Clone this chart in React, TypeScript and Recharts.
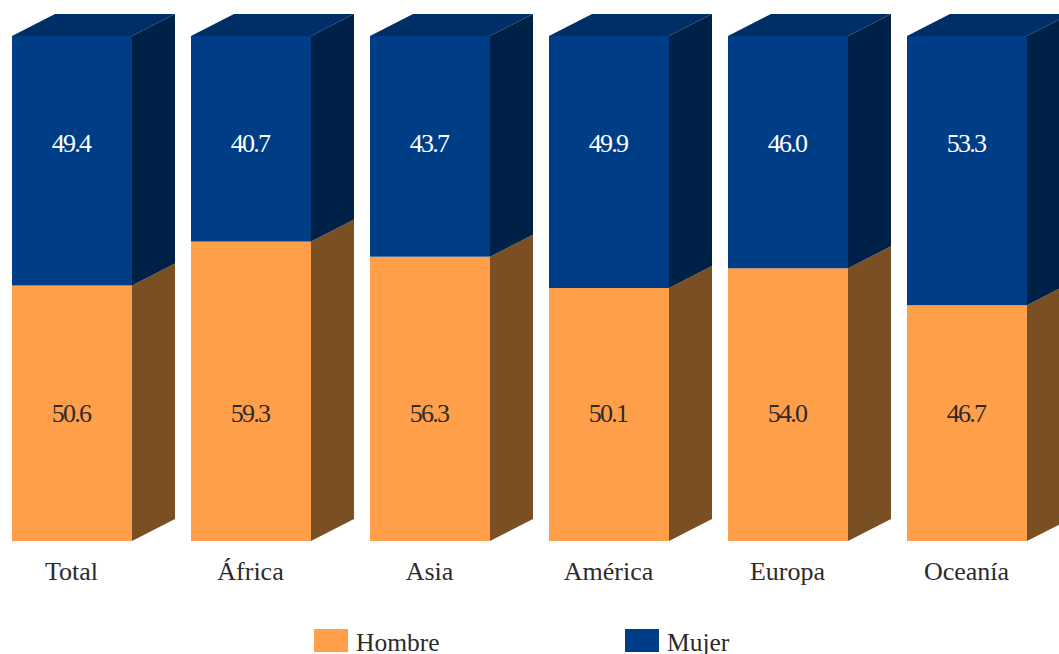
import React from 'react'
import { BarChart, Bar, XAxis, YAxis, Legend, LabelList } from 'recharts'

const categories = ['Total', 'África', 'Asia', 'América', 'Europa', 'Oceanía']
const hombre = [50.6, 59.3, 56.3, 50.1, 54.0, 46.7]
const mujer = [49.4, 40.7, 43.7, 49.9, 46.0, 53.3]

const rows = categories.map((name, i) => ({ name, hombre: hombre[i], mujer: mujer[i] }))

const FONT = '"Liberation Serif", "Times New Roman", serif'
const DX = 43
const DY = 22

// front, side and (for the top segment) lid of a 3D box
function Box3D(props: any) {
  const { x, y, width, height, fill, side, lid } = props
  const r = x + width
  return (
    <g>
      <rect x={x} y={y} width={width} height={height} fill={fill} />
      <polygon
        points={`${r},${y} ${r + DX},${y - DY} ${r + DX},${y + height - DY} ${r},${y + height}`}
        fill={side}
      />
      {lid && (
        <polygon
          points={`${x},${y} ${x + DX},${y - DY} ${r + DX},${y - DY} ${r},${y}`}
          fill={lid}
        />
      )}
    </g>
  )
}

// the source keeps every label of a series on one line, not centred in its segment
function fixedLabel(baseline: number, color: string) {
  return (props: any) => (
    <text
      x={props.x + props.width / 2 - 1}
      y={baseline}
      textAnchor="middle"
      fontFamily={FONT}
      fontSize={26}
      letterSpacing={-1.7}
      fill={color}
    >
      {Number(props.value).toFixed(1)}
    </text>
  )
}

const legendX: Record<string, number> = { Hombre: 332, Mujer: 643 }

function LegendRow({ payload }: any) {
  return (
    <div style={{ position: 'relative', width: 1074, height: 0 }}>
      {(payload ?? []).map((p: any) => (
        <div
          key={p.value}
          style={{
            position: 'absolute',
            left: legendX[p.value],
            top: 629,
            display: 'flex',
            alignItems: 'center',
            height: 23,
            whiteSpace: 'nowrap',
          }}
        >
          <span style={{ width: 34, height: 23, background: p.color, marginRight: 8 }} />
          <span
            style={{
              fontFamily: FONT,
              fontSize: 25.5,
              lineHeight: '20px',
              color: '#2b2b2b',
              position: 'relative',
              top: 2,
            }}
          >
            {p.value}
          </span>
        </div>
      ))}
    </div>
  )
}

export default function App() {
  return (
    <div
      style={{
        position: 'absolute',
        left: 0,
        top: 0,
        width: 1059,
        height: 654,
        overflow: 'hidden',
        background: '#fff',
      }}
    >
      <div style={{ position: 'absolute', left: -18, top: 0 }}>
        <BarChart
          width={1104}
          height={654}
          data={rows}
          barSize={120}
          margin={{ top: 36, right: 30, bottom: 83, left: 0 }}
        >
          <XAxis
            dataKey="name"
            height={30}
            axisLine={false}
            tickLine={false}
            interval={0}
            tickMargin={15}
            tick={{ fontFamily: FONT, fontSize: 26, fill: '#2b2b2b' }}
          />
          <YAxis hide domain={[0, 100]} />
          <Legend
            content={<LegendRow />}
            wrapperStyle={{ position: 'absolute', left: 0, top: 0, width: 1074, height: 0 }}
          />
          <Bar
            dataKey="hombre"
            name="Hombre"
            stackId="a"
            fill="#ff9f4a"
            isAnimationActive={false}
            shape={(p: any) => <Box3D {...p} side="#7b4f24" />}
          >
            <LabelList dataKey="hombre" content={fixedLabel(422, '#2b2b2b')} />
          </Bar>
          <Bar
            dataKey="mujer"
            name="Mujer"
            stackId="a"
            fill="#003d87"
            isAnimationActive={false}
            shape={(p: any) => <Box3D {...p} side="#002147" lid="#002e66" />}
          >
            <LabelList dataKey="mujer" content={fixedLabel(152, '#ffffff')} />
          </Bar>
        </BarChart>
      </div>
    </div>
  )
}
